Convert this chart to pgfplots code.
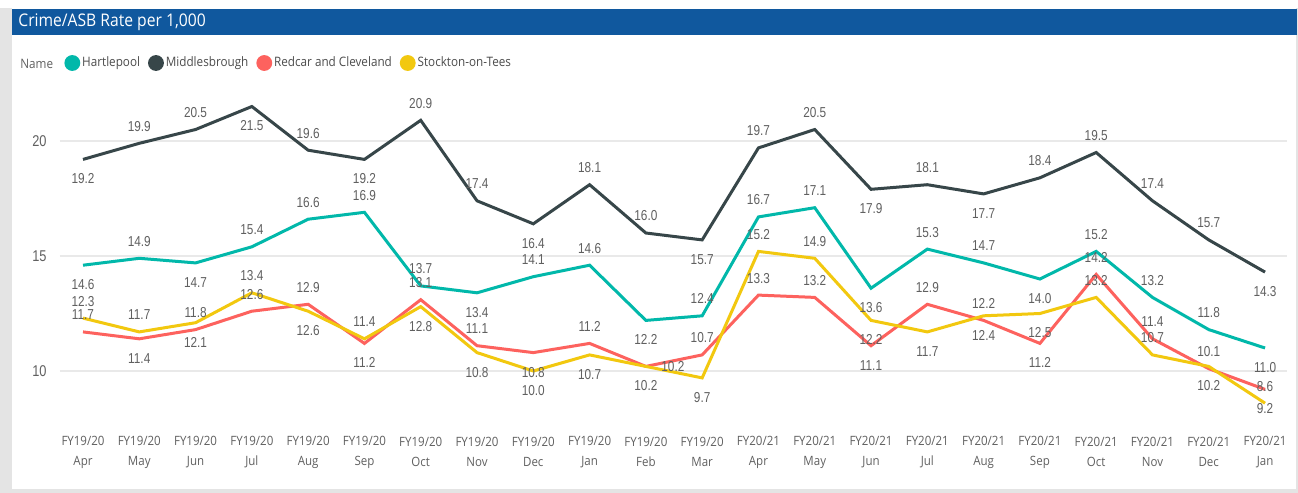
\documentclass[border=0pt]{standalone}
\usepackage{pgfplots}
\pgfplotsset{compat=1.18}
\usepackage{pgfplotstable}
\usepackage{fontspec}
\setmainfont{Open Sans}
\newfontfamily\segoe[FakeStretch=0.9]{Open Sans}
\newfontfamily\din[FakeStretch=0.82]{Liberation Sans}
\definecolor{hart}{RGB}{1,184,170}
\definecolor{midd}{RGB}{55,70,73}
\definecolor{redc}{RGB}{253,98,94}
\definecolor{stock}{RGB}{242,200,15}
\definecolor{titlebar}{RGB}{16,88,158}
\definecolor{lab}{RGB}{96,96,96}
\definecolor{gridc}{RGB}{233,233,233}
\definecolor{framec}{RGB}{228,228,228}

\pgfplotstableread{
x y dy dx
0 14.6 -9.75 0
1 14.9 8.5 0
2 14.7 -9.75 0
3 15.4 8.5 0
4 16.6 8.5 0
5 16.9 8.5 0
6 13.7 8.5 0
7 13.4 -9.75 0
8 14.1 8.5 0
9 14.6 8.5 0
10 12.2 -9.75 0
11 12.4 8.5 0
12 16.7 8.5 0
13 17.1 8.5 0
14 13.6 -9.75 0
15 15.3 8.5 0
16 14.7 8.5 0
17 14.0 -9.75 0
18 15.2 8.5 0
19 13.2 8.5 0
20 11.8 8.5 0
21 11.0 -9.75 0
}\tabH

\pgfplotstableread{
x y dy dx
0 19.2 -9.75 0
1 19.9 8.5 0
2 20.5 8.5 0
3 21.5 -9.75 0
4 19.6 8.5 0
5 19.2 -9.75 0
6 20.9 8.5 0
7 17.4 8.5 0
8 16.4 -9.75 0
9 18.1 8.5 0
10 16.0 8.5 0
11 15.7 -9.75 0
12 19.7 8.5 0
13 20.5 8.5 0
14 17.9 -9.75 0
15 18.1 8.5 0
16 17.7 -9.75 0
17 18.4 8.5 0
18 19.5 8.5 0
19 17.4 8.5 0
20 15.7 8.5 0
21 14.3 -9.75 0
}\tabM

\pgfplotstableread{
x y dy dx
0 11.7 8.5 0
1 11.4 -9.75 0
2 11.8 8.5 0
3 12.6 8.5 0
4 12.9 8.5 0
5 11.2 -9.75 0
6 13.1 8.5 0
7 11.1 8.5 0
8 10.8 -9.75 0
9 11.2 8.5 0
10 10.2 0 13.5
11 10.7 8.5 0
12 13.3 8.5 0
13 13.2 8.5 0
14 11.1 -9.75 0
15 12.9 8.5 0
16 12.2 8.5 0
17 11.2 -9.75 0
18 14.2 8.5 0
19 11.4 8.5 0
20 10.1 8.5 0
21 9.2 -9.75 0
}\tabR

\pgfplotstableread{
x y dy dx
0 12.3 8.5 0
1 11.7 8.5 0
2 12.1 -9.75 0
3 13.4 8.5 0
4 12.6 -9.75 0
5 11.4 8.5 0
6 12.8 -9.75 0
7 10.8 -9.75 0
8 10.0 -9.75 0
9 10.7 -9.75 0
10 10.2 -9.75 0
11 9.7 -9.75 0
12 15.2 8.5 0
13 14.9 8.5 0
14 12.2 -9.75 0
15 11.7 -9.75 0
16 12.4 -9.75 0
17 12.5 -9.75 0
18 13.2 8.5 0
19 10.7 8.5 0
20 10.2 -9.75 0
21 8.6 8.5 0
}\tabY

\begin{document}
\begin{tikzpicture}[x=0.5pt,y=-0.5pt]
% frame
\fill[framec] (0,0) rectangle (1298,493);
\fill[white] (0,0) rectangle (1298,7.5);
\fill[white] (12,8) rectangle (1296,489);
\fill[titlebar] (12,9) rectangle (1297,35);
\node[anchor=west, text=white, inner sep=0pt, font=\segoe\fontsize{8.7}{10}\selectfont] at (18,22) {Crime/ASB Rate per 1,000};
\node[anchor=west, text=lab, inner sep=0pt, font=\segoe\fontsize{6.5}{8}\selectfont] at (20,63.5) {Name};

\begin{axis}[
  at={(30pt,-208.5pt)}, anchor=south west,
  scale only axis, width=613.5pt, height=166.75pt,
  xmin=-0.4086, xmax=21.3898, ymin=8, ymax=22.5,
  clip=false,
  axis line style={draw=none},
  major tick length=0pt,
  ytick={10,15,20}, yticklabels={10,15,20},
  ymajorgrids, grid style={gridc, line width=0.75pt},
  yticklabel style={anchor=east, inner sep=0pt, xshift=-6.5pt, text=lab, font=\din\fontsize{7.8}{9}\selectfont},
  xtick={0,...,21},
  xticklabels={{FY19/20\\Apr},{FY19/20\\May},{FY19/20\\Jun},{FY19/20\\Jul},{FY19/20\\Aug},{FY19/20\\Sep},{FY19/20\\Oct},{FY19/20\\Nov},{FY19/20\\Dec},{FY19/20\\Jan},{FY19/20\\Feb},{FY19/20\\Mar},{FY20/21\\Apr},{FY20/21\\May},{FY20/21\\Jun},{FY20/21\\Jul},{FY20/21\\Aug},{FY20/21\\Sep},{FY20/21\\Oct},{FY20/21\\Nov},{FY20/21\\Dec},{FY20/21\\Jan}},
  xticklabel style={anchor=center, align=center, inner sep=0pt, yshift=-17.5pt, text=lab, font=\segoe\fontsize{6.4}{10}\selectfont},
  point meta=explicit,
  nodes near coords={\pgfmathprintnumber[fixed,fixed zerofill,precision=1,assume math mode=true]{\pgfplotspointmeta}},
  visualization depends on={\thisrow{dy}\as\dy},
  visualization depends on={\thisrow{dx}\as\dx},
  every node near coord/.append style={anchor=center, inner sep=0pt, yshift=\dy pt, xshift=\dx pt, text=lab, font=\din\fontsize{7.2}{8}\selectfont},
  legend columns=-1,
  legend image code/.code={\fill[#1] (3.2pt,0pt) circle (3.2pt);},
  legend style={at={(axis description cs:0.0033,1.0615)}, anchor=west, draw=none, fill=none, inner sep=0pt,
    font=\segoe\fontsize{6.5}{8}\selectfont, text=black!70,
    nodes={inner sep=1pt},
    /tikz/every even column/.append style={column sep=3pt}},
]
\addplot[hart, line width=1.5pt, mark=none] table[x=x,y=y,meta=y] {\tabH};
\addlegendentry{Hartlepool}
\addplot[midd, line width=1.5pt, mark=none] table[x=x,y=y,meta=y] {\tabM};
\addlegendentry{Middlesbrough}
\addplot[redc, line width=1.5pt, mark=none] table[x=x,y=y,meta=y] {\tabR};
\addlegendentry{Redcar and Cleveland}
\addplot[stock, line width=1.5pt, mark=none] table[x=x,y=y,meta=y] {\tabY};
\addlegendentry{Stockton-on-Tees}
\end{axis}
\pgfresetboundingbox
\useasboundingbox (0,0) rectangle (1298,493);
\end{tikzpicture}
\end{document}
